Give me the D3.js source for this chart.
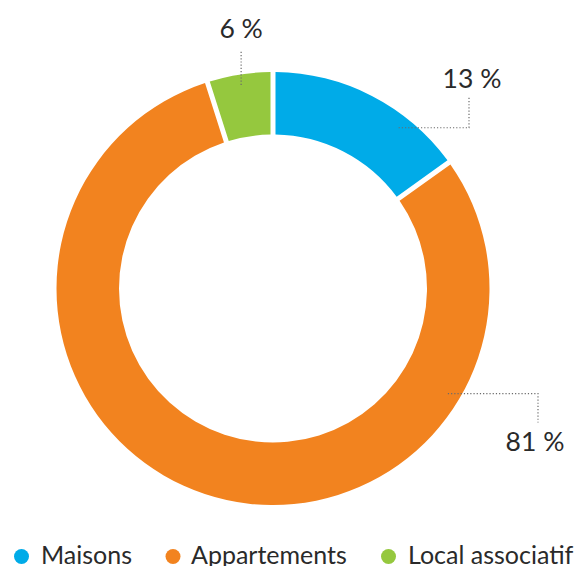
<!DOCTYPE html>
<html>
<head>
<meta charset="utf-8">
<script src="https://cdn.jsdelivr.net/npm/d3@7"></script>
<style>
  html, body { margin: 0; padding: 0; background: #fff; }
  svg { display: block; }
  text { font-family: Lato, "Open Sans", sans-serif; fill: #2a2a2a; }
</style>
</head>
<body>
<svg id="chart" width="579" height="566"></svg>
<script>
// ---- data ----
const categories = ["Maisons", "Appartements", "Local associatif"];
const shares = [15.1, 80.0, 4.9];          // slice sizes as drawn (percent of the ring)
const labels = ["13 %", "81 %", "6 %"];    // printed labels
const colors = ["#00abe8", "#f2831f", "#95c83e"];

// ---- layout ----
const cx = 273, cy = 288.5;
const rOuter = 216.5, rInner = 154;

const svg = d3.select("#chart");
const g = svg.append("g").attr("transform", `translate(${cx},${cy})`);

const data = categories.map((c, i) => ({ cat: c, value: shares[i], label: labels[i], color: colors[i] }));

const pie = d3.pie().value(d => d.value).sort(null)
  .startAngle(0).endAngle(2 * Math.PI);
const arcs = pie(data);

const arc = d3.arc().innerRadius(rInner).outerRadius(rOuter)
  .padAngle(0.05).padRadius(100);

g.selectAll("path.slice").data(arcs).enter().append("path")
  .attr("class", "slice")
  .attr("d", arc)
  .attr("fill", d => d.data.color);

// ---- annotations (leader lines) ----
const ann = [
  { i: 0, ang: 38,   r: 204, path: (p) => [p, [196, p[1]], [196, p[1] - 30]], text: [199, -200.5] },
  { i: 1, ang: 121,  r: 204, path: (p) => [p, [265, p[1]], [265, p[1] + 29]], text: [262, 162.5] },
  { i: 2, ang: -8.9, r: 206, path: (p) => [p, [p[0], p[1] - 34]], text: null }
];

const line = d3.line();
ann.forEach(a => {
  const p = d3.pointRadial(a.ang * Math.PI / 180, a.r);
  const pts = a.path(p);
  g.append("path")
    .attr("d", line(pts))
    .attr("fill", "none")
    .attr("stroke", "#6b6b6b")
    .attr("stroke-width", 1.2)
    .attr("stroke-dasharray", "1.2,2");
  const tp = a.text || [p[0], p[1] - 47];
  g.append("text")
    .attr("x", tp[0]).attr("y", tp[1])
    .attr("text-anchor", "middle")
    .attr("font-size", 26.5)
    .text(data[a.i].label);
});

// ---- legend ----
const dotX = [21.5, 173, 388.5];
const textX = [41, 191, 408];
const legendY = 556.5;
const lg = svg.append("g");
data.forEach((d, i) => {
  lg.append("circle").attr("cx", dotX[i]).attr("cy", legendY).attr("r", 7.5).attr("fill", d.color);
  lg.append("text").attr("x", textX[i]).attr("y", 564)
    .attr("font-size", 25).text(d.cat);
});
</script>
</body>
</html>
